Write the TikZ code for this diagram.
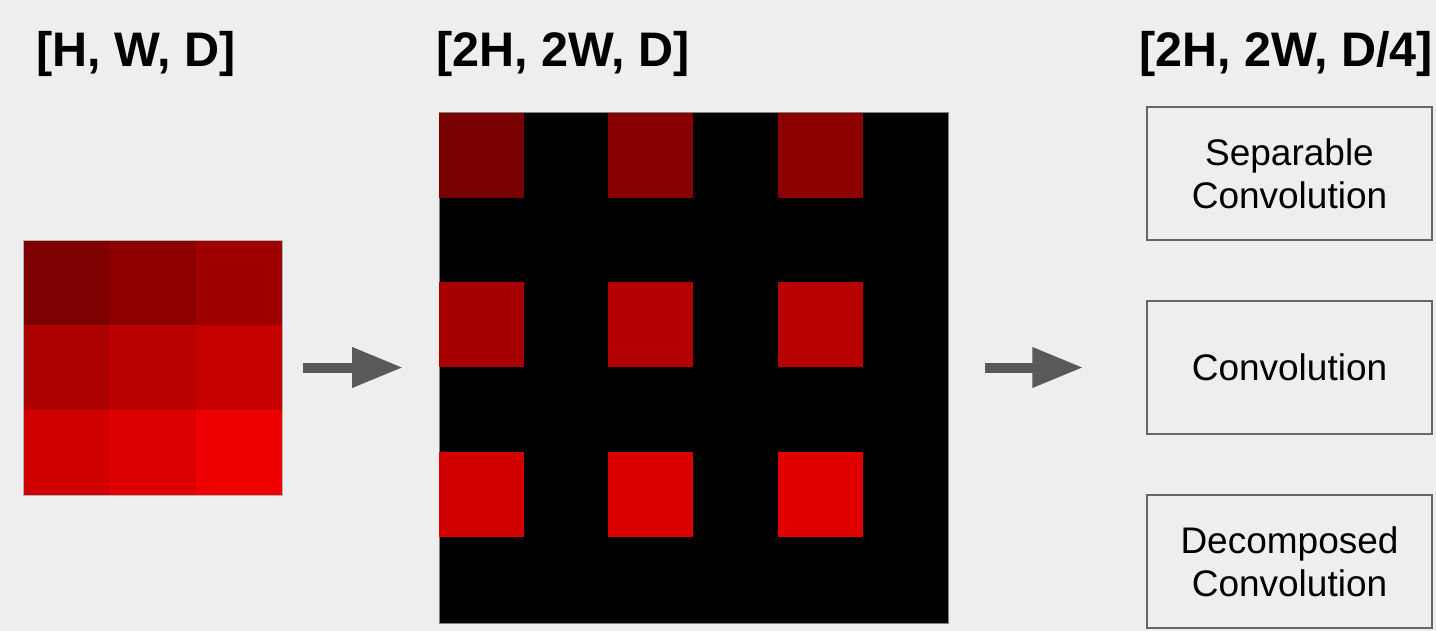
\documentclass[tikz,border=0pt]{standalone}
\usepackage{fontspec}
\setmainfont{Liberation Sans}
\usetikzlibrary{arrows.meta}
\definecolor{bg}{HTML}{EEEEEE}
\definecolor{arrowgray}{HTML}{595959}
\definecolor{boxgray}{HTML}{666666}
\definecolor{a11}{HTML}{7F0000}\definecolor{a12}{HTML}{8E0000}\definecolor{a13}{HTML}{9E0000}
\definecolor{a21}{HTML}{AC0000}\definecolor{a22}{HTML}{BA0000}\definecolor{a23}{HTML}{C60000}
\definecolor{a31}{HTML}{D10000}\definecolor{a32}{HTML}{DE0000}\definecolor{a33}{HTML}{EE0000}
\definecolor{b11}{HTML}{780000}\definecolor{b12}{HTML}{860000}\definecolor{b13}{HTML}{8C0000}
\definecolor{b21}{HTML}{A80000}\definecolor{b22}{HTML}{B20000}\definecolor{b23}{HTML}{B80000}
\definecolor{b31}{HTML}{D20000}\definecolor{b32}{HTML}{DA0000}\definecolor{b33}{HTML}{E00000}
\tikzset{
  title/.style={font=\fontsize{48.5}{52}\selectfont\bfseries, inner sep=0pt},
  opbox/.style={draw=boxgray, line width=1.5pt, fill=bg, minimum width=285pt, minimum height=133pt,
    inner sep=0pt, align=center, font=\fontsize{37}{43}\selectfont},
  flow/.style={draw=arrowgray, line width=10pt, -{Triangle[length=51pt,width=38pt]}},
  area/.style={inner sep=0pt, outer sep=0pt}
}
\begin{document}
\begin{tikzpicture}[x=1pt,y=-1pt]
\useasboundingbox (0,0) rectangle (1436,631);
\fill[bg] (0,0) rectangle (1436,631);
% titles
\node[title, anchor=base west] (t1) at (36,67) {[H, W, D]};
\node[title, anchor=base west] (t2) at (436,67) {[2H, 2W, D]};
\node[title, anchor=base east] (t3) at (1433,67) {[2H, 2W, D/4]};
% input grid
\node[area, minimum width=259pt, minimum height=255pt] (in) at (152.5,367.5) {};
\foreach \r/\y in {1/240,2/325,3/410}{
  \foreach \c/\x in {1/23,2/109,3/196}{
    \fill[a\r\c] (\x,\y) rectangle ++(87,86);
  }
}
\draw[gray!60, line width=0.6pt] (in.north west) rectangle (in.south east);
% upsampled grid
\node[area, fill=black, draw=gray, line width=1pt, minimum width=509pt, minimum height=510pt] (up) at (693.5,368) {};
\foreach \r/\y in {1/113,2/282,3/452}{
  \foreach \c/\x in {1/439,2/608,3/778}{
    \fill[b\r\c] (\x,\y) rectangle ++(85,85);
  }
}
% boxes
\node[opbox] (sep) at (1289.5,173.5) {Separable\\Convolution};
\node[opbox] (conv) at (1289.5,367.5) {Convolution};
\node[opbox] (dec) at (1289.5,561.5) {Decomposed\\Convolution};
% arrows
\coordinate (boxes) at (sep.west |- conv.west);
\draw[flow, shorten <=21pt, shorten >=36pt] (in.east) -- (in.east -| up.west);
\draw[flow, shorten <=37pt, shorten >=63pt] (up.east |- conv.west) -- (boxes);
\end{tikzpicture}
\end{document}
